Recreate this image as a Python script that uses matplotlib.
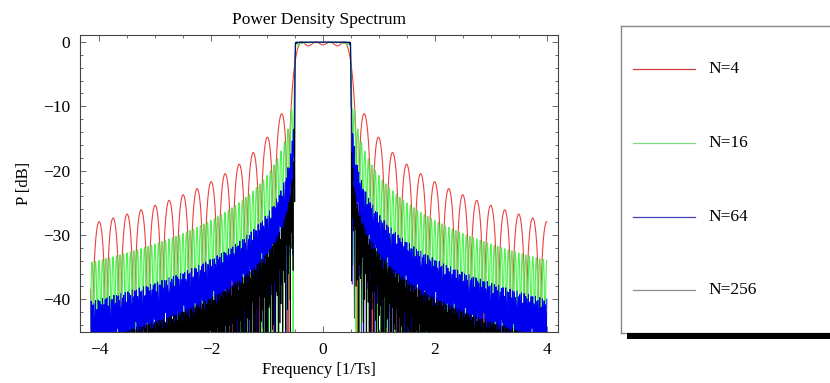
import numpy as np
import matplotlib
matplotlib.use('Agg')
import matplotlib.pyplot as plt
from matplotlib.patches import Rectangle
from matplotlib.ticker import MultipleLocator

plt.rcParams['font.family'] = ['Liberation Serif', 'DejaVu Serif']

# chart data
n_carriers = [4, 16, 64, 256]
labels = ['N=4', 'N=16', 'N=64', 'N=256']
colors = ['#ee4040', '#50f050', '#0000f0', '#000000']
legend_colors = ['#d04040', '#80e080', '#4040c0', '#909090']
f_start, f_stop = -4.15, 4.0
# samples per curve; the fast ripple of N=64/256 is under-sampled like the original
n_points = [4001, 4001, 845, 1290]
widths = [0.8, 0.8, 0.7, 0.5]


def psd_db(N, freq):
    # OFDM spectrum: sum of sinc^2 of the N subcarriers, spacing 1/(N Ts)
    p = np.zeros_like(freq)
    for k in range(N):
        fk = (k - (N - 1) / 2.0) / N
        p += np.sinc(N * (freq - fk)) ** 2
    return 10 * np.log10(np.maximum(p, 1e-12))


def minus(v, pos):
    return f'{v:.0f}'.replace('-', '\u2212')


W, H = 830, 383
fig = plt.figure(figsize=(W / 100, H / 100), dpi=100)
ax = fig.add_axes([80 / W, 1 - 332 / H, (558 - 80) / W, (332 - 35) / H])

# same order as the legend: N=256 ends up on top
for N, n, c, lw in zip(n_carriers, n_points, colors, widths):
    freq = np.linspace(f_start, f_stop, n)
    ax.plot(freq, psd_db(N, freq), color=c, lw=lw)

ax.set_xlim(-4.34, 4.2)
ax.set_ylim(-45.1, 1.1)
ax.xaxis.set_major_locator(MultipleLocator(2))
ax.xaxis.set_minor_locator(MultipleLocator(0.5))
ax.yaxis.set_major_locator(MultipleLocator(10))
ax.yaxis.set_minor_locator(MultipleLocator(2))
ax.tick_params(which='both', direction='in', top=True, right=True,
               labelsize=12.5, width=0.6, color='#555555', pad=7)
ax.tick_params(which='major', length=4)
ax.tick_params(which='minor', length=2)
ax.xaxis.set_major_formatter(plt.FuncFormatter(minus))
ax.yaxis.set_major_formatter(plt.FuncFormatter(minus))
for s in ax.spines.values():
    s.set_linewidth(0.8)
    s.set_color('#444444')

ax.set_title('Power Density Spectrum', fontsize=12.5, pad=8)
ax.set_xlabel('Frequency [1/Ts]', fontsize=12, labelpad=3)
ax.set_ylabel('P [dB]', fontsize=12, labelpad=8)

# legend panel: separate box with a drop shadow
shadow = Rectangle((627 / W, 1 - 339 / H), 1.0, 6 / H, transform=fig.transFigure,
                   facecolor='black', edgecolor='none', zorder=0)
fig.patches.append(shadow)
lax = fig.add_axes([621 / W, 1 - 333 / H, 0.5, (333 - 26) / H])
lax.set_xlim(621, 621 + 0.5 * W)
lax.set_ylim(333, 26)
lax.set_xticks([])
lax.set_yticks([])
for s in lax.spines.values():
    s.set_color('#888888')
    s.set_linewidth(1.0)
rows_y = [69, 143, 217, 290]
for y, lab, c in zip(rows_y, labels, legend_colors):
    lax.plot([633, 695], [y, y], color=c, lw=0.9)
    lax.text(708, y, lab, fontsize=12.5, va='center', ha='left')

fig.savefig('out.png', dpi=100)
